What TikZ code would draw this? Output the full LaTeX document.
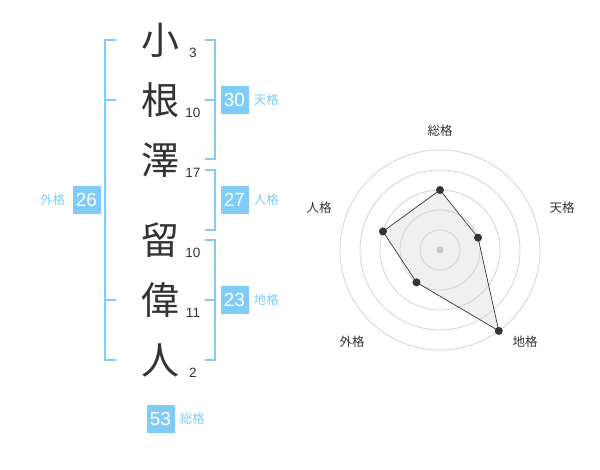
\documentclass[tikz,border=0pt]{standalone}
\usepackage{fontspec}
\setmainfont{Liberation Sans}
\newfontfamily\cjk{Noto Sans CJK JP}
\usetikzlibrary{positioning}
\definecolor{kakublue}{HTML}{80CCF8}
\definecolor{ink}{HTML}{333333}
\definecolor{ringgray}{HTML}{D2D2D2}

\begin{document}
\begin{tikzpicture}[x = 1pt, y = 1pt,
	kanji/.style = {inner sep = 0, text = ink, font = \cjk\fontsize{38}{40}\selectfont},
	strokes/.style = {inner sep = 0, text = ink, font = \fontsize{13.5}{15}\selectfont},
	score/.style = {fill = kakublue, text = white, inner sep = 0, minimum width = 28pt, minimum height = 28pt, font = \fontsize{19}{20}\selectfont},
	scorelabel/.style = {inner sep = 0, text = kakublue, font = \cjk\fontsize{12.5}{14}\selectfont},
	bracket/.style = {draw = kakublue, line width = 2pt},
	axislabel/.style = {inner sep = 0, text = ink, font = \cjk\fontsize{12.5}{14}\selectfont},
	ring/.style = {draw = ringgray, line width = 0.8pt},
	vertex/.style = {circle, fill = ink, inner sep = 0, minimum size = 8pt}]
	\useasboundingbox ( 0, 0 ) rectangle ( 600, 470 );

	% name, strokes
	\node[kanji] (k1) at ( 160, 430 ) {小};
	\node[strokes] (n1) at ( 193, 417.5 ) {3};
	\node[kanji] (k2) at ( 160, 370 ) {根};
	\node[strokes] (n2) at ( 193, 357.5 ) {10};
	\node[kanji] (k3) at ( 160, 310 ) {澤};
	\node[strokes] (n3) at ( 193, 297.5 ) {17};
	\node[kanji] (k4) at ( 160, 230 ) {留};
	\node[strokes] (n4) at ( 193, 217.5 ) {10};
	\node[kanji] (k5) at ( 160, 170 ) {偉};
	\node[strokes] (n5) at ( 193, 157.5 ) {11};
	\node[kanji] (k6) at ( 160, 110 ) {人};
	\node[strokes] (n6) at ( 193, 97.5 ) {2};

	% brackets
	\draw[bracket] ( 116, 430 ) -- ( 105, 430 ) -- ( 105, 110 ) -- ( 116, 110 );
	\draw[bracket] ( 105, 370 ) -- ( 116, 370 );
	\draw[bracket] ( 105, 170 ) -- ( 116, 170 );
	\draw[bracket] ( 205, 430 ) -- ( 215, 430 ) -- ( 215, 311 ) -- ( 205, 311 );
	\draw[bracket] ( 205, 370 ) -- ( 215, 370 );
	\draw[bracket] ( 205, 300 ) -- ( 215, 300 ) -- ( 215, 240 ) -- ( 205, 240 );
	\draw[bracket] ( 205, 230 ) -- ( 215, 230 ) -- ( 215, 110 ) -- ( 205, 110 );
	\draw[bracket] ( 205, 170 ) -- ( 215, 170 );

	% scores
	\node[score] (s-ten) at ( 234.5, 370 ) {30};
	\node[scorelabel, right = 5pt of s-ten] (l-ten) {天格};
	\node[score] (s-jin) at ( 234.5, 270 ) {27};
	\node[scorelabel, right = 5pt of s-jin] (l-jin) {人格};
	\node[score] (s-chi) at ( 234.5, 170 ) {23};
	\node[scorelabel, right = 5pt of s-chi] (l-chi) {地格};
	\node[score] (s-gai) at ( 86.5, 270 ) {26};
	\node[scorelabel, left = 7pt of s-gai] (l-gai) {外格};
	\node[score] (s-sou) at ( 160.5, 51 ) {53};
	\node[scorelabel, right = 5pt of s-sou] (l-sou) {総格};

	% radar
	\begin{scope}[shift = {( 440, 220 )}]
		\coordinate (p-sou) at ( 90 : 60 );
		\coordinate (p-ten) at ( 18 : 40 );
		\coordinate (p-chi) at ( -54 : 100 );
		\coordinate (p-gai) at ( -126 : 40 );
		\coordinate (p-jin) at ( 162 : 60 );
		\fill[black!6] (p-sou) -- (p-ten) -- (p-chi) -- (p-gai) -- (p-jin) -- cycle;
		\draw[ring] ( 0, 0 ) circle [radius = 20];
		\draw[ring] ( 0, 0 ) circle [radius = 40];
		\draw[ring] ( 0, 0 ) circle [radius = 60];
		\draw[ring] ( 0, 0 ) circle [radius = 80];
		\draw[ring] ( 0, 0 ) circle [radius = 100];
		\fill[black!22] ( 0, 0 ) circle [radius = 3.5];
		\draw[ink, line width = 0.7pt] (p-sou) -- (p-ten) -- (p-chi) -- (p-gai) -- (p-jin) -- cycle;
		\node[vertex] (v-sou) at (p-sou) {};
		\node[vertex] (v-ten) at (p-ten) {};
		\node[vertex] (v-chi) at (p-chi) {};
		\node[vertex] (v-gai) at (p-gai) {};
		\node[vertex] (v-jin) at (p-jin) {};
		\node[axislabel] (a-sou) at ( 0, 119 ) {総格};
		\node[axislabel] (a-ten) at ( 122, 42 ) {天格};
		\node[axislabel] (a-jin) at ( -121, 42 ) {人格};
		\node[axislabel] (a-chi) at ( 85, -92 ) {地格};
		\node[axislabel] (a-gai) at ( -88, -92 ) {外格};
	\end{scope}
\end{tikzpicture}
\end{document}
